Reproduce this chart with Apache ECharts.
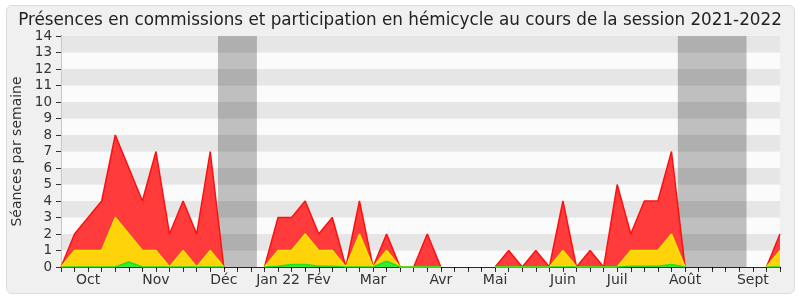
<!DOCTYPE html>
<html><head><meta charset="utf-8">
<script src="https://cdn.jsdelivr.net/npm/echarts@6/dist/echarts.min.js"></script>
<style>
html,body{margin:0;padding:0;background:#fff;}
#frame{position:absolute;left:6px;top:5px;width:787px;height:287px;border:1px solid #dcdcdc;border-radius:6px;background:#f0f0f0;}
#chart{position:absolute;left:0;top:0;width:800px;height:300px;}
</style></head>
<body><div id="frame"></div><div id="chart"></div>
<script>
// week index 0..53 (session weeks); null = no sitting data (recess)
const weekCount = 54;
const totalSeances = [0,2,3,4,8,6,4,7,2,4,2,7,0,null,null,0,3,3,4,2,3,0,4,0,2,0,0,2,0,null,null,null,0,1,0,1,0,4,0,1,0,5,2,4,4,7,0,null,null,null,null,null,0,2];
const commissionSeances = [0,1,1,1,3,2,1,1,0,1,0,1,0,null,null,0,1,1,2,1,1,0,2,0,1,0,0,0,0,null,null,null,0,0,0,0,0,1,0,0,0,0,1,1,1,2,0,null,null,null,null,null,0,1];
const hemicycleSeances = [0,0,0,0,0,0.3,0,0,0,0,0,0,0,null,null,0,0.05,0.15,0.15,0.05,0.05,0,0,0,0.35,0,0,0,0,null,null,null,0,0,0,0,0,0,0,0,0,0,0.05,0.05,0.05,0.15,0,null,null,null,null,null,0,0];
// month tick labels: [week index, label]
const monthLabels = [[2,'Oct'],[7,'Nov'],[12,'Déc'],[16,'Jan 22'],[19,'Fév'],[23,'Mar'],[28,'Avr'],[32,'Mai'],[37,'Juin'],[41,'Juil'],[46,'Août'],[51,'Sept']];
// recess periods (in week index units)
const recessPeriods = [[11.57,14.44],[45.47,50.53]];
const yTicks = [0,1,2,3,4,5,6,7,8,9,10,11,12,13,14];

const labelMap = {};
monthLabels.forEach(function(m){ labelMap[m[0]] = m[1]; });
function toPairs(arr){ return arr.map(function(v,i){ return [i, v]; }); }

const FONT = 'DejaVu Sans';
const chart = echarts.init(document.getElementById('chart'), null, {renderer:'canvas'});
chart.setOption({
  animation: false,
  backgroundColor: 'transparent',
  title: {
    text: 'Présences en commissions et participation en hémicycle au cours de la session 2021-2022',
    left: 'center', top: 7,
    textStyle: {fontFamily: FONT, fontSize: 16.8, fontWeight: 'normal', color: '#222'}
  },
  grid: {left: 61, right: 20, top: 36, bottom: 33, outerBoundsMode: 'none', containLabel: false},
  xAxis: [{
    type: 'value', min: 0, max: weekCount - 1, interval: 1,
    axisLine: {show: true, onZero: false, lineStyle: {color: '#4a1c10', width: 1}},
    axisTick: {show: true, length: 5, lineStyle: {color: '#333'}},
    axisLabel: {
      show: true, interval: 0, margin: 6,
      fontFamily: FONT, fontSize: 14, color: '#333',
      formatter: function(v){ return labelMap[v] || ''; }
    },
    splitLine: {show: false}
  },{
    type: 'value', position: 'top', min: 0, max: weekCount - 1, interval: 1,
    axisLine: {show: false},
    axisTick: {show: true, inside: true, length: 2, lineStyle: {color: '#000'}},
    axisLabel: {show: false},
    splitLine: {show: false}
  }],
  yAxis: [{
    type: 'value', min: yTicks[0], max: yTicks[yTicks.length-1], interval: 1,
    name: 'Séances par semaine', nameLocation: 'middle', nameGap: 35,
    nameTextStyle: {fontFamily: FONT, fontSize: 14, color: '#333'},
    axisLine: {show: true, lineStyle: {color: '#333'}},
    axisTick: {show: true, length: 5, lineStyle: {color: '#333'}},
    axisLabel: {fontFamily: FONT, fontSize: 13.5, color: '#333', margin: 9},
    splitLine: {show: false},
    splitArea: {show: true, areaStyle: {color: ['#fbfbfb', '#e6e6e6']}}
  },{
    type: 'value', position: 'right', min: 0, max: 14, interval: 1,
    axisLine: {show: true, lineStyle: {color: '#c8c8c8'}},
    axisTick: {show: false}, axisLabel: {show: false},
    splitLine: {show: false}, splitArea: {show: false}
  }],
  series: [{
    name: 'Total', type: 'line', data: toPairs(totalSeances),
    symbol: 'none', connectNulls: false,
    lineStyle: {color: '#ff1010', width: 1.5},
    areaStyle: {color: '#ff3b3b', opacity: 1},
    z: 2
  },{
    name: 'Commissions', type: 'line', data: toPairs(commissionSeances),
    symbol: 'none', connectNulls: false,
    lineStyle: {color: '#ffe600', width: 1.5},
    areaStyle: {color: '#ffd30a', opacity: 1},
    z: 3
  },{
    name: 'Hémicycle', type: 'line', data: toPairs(hemicycleSeances),
    symbol: 'none', connectNulls: false,
    lineStyle: {color: '#22dd22', width: 1.5},
    areaStyle: {color: '#33ee33', opacity: 1},
    z: 4,
    markArea: {
      silent: true,
      itemStyle: {color: 'rgba(0,0,0,0.24)'},
      data: recessPeriods.map(function(p){ return [{xAxis: p[0]}, {xAxis: p[1]}]; })
    }
  }]
});
</script>
</body></html>
